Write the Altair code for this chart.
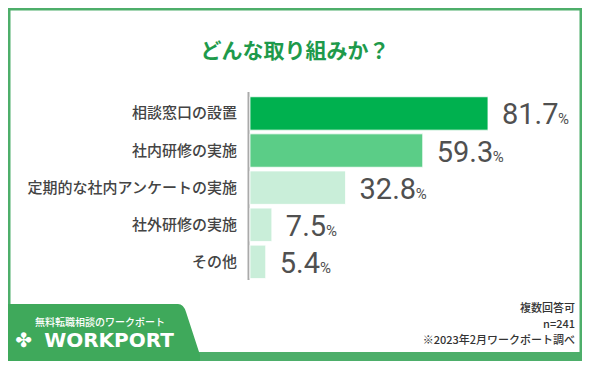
import altair as alt
import pandas as pd

# ---- data ----
categories = ["相談窓口の設置", "社内研修の実施", "定期的な社内アンケートの実施", "社外研修の実施", "その他"]
values = [81.7, 59.3, 32.8, 7.5, 5.4]
title_text = "どんな取り組みか？"
footer_lines = ["複数回答可", "n=241", "※2023年2月ワークポート調べ"]
brand_tagline = "無料転職相談のワークポート"
brand_name = "WORKPORT"

# ---- styles ----
bar_colors = ["#00B14F", "#5BCD87", "#C9EED9", "#C9EED9", "#C9EED9"]
frame_green = "#4DAE6A"
tab_green = "#3FA95B"
title_green = "#1E9A4B"
num_gray = "#505050"

W, H = 574, 353
NUM_FS = 29
PX_PER_UNIT = (533.3 - 242) / 100

df = pd.DataFrame({"cat": categories, "value": values})
one = pd.DataFrame({"k": [0]})

xs = alt.Scale(domain=[0, 100], range=[242, 533.3])
ys = alt.Scale(domain=categories, range=[86.9, 272.4], paddingInner=0.1, paddingOuter=0.05)
Y = alt.Y("cat:N", scale=ys, axis=None, sort=categories)

base = alt.Chart(df)

bars = base.mark_bar(stroke="white", strokeWidth=0.8).encode(
    x=alt.X("value:Q", scale=xs, axis=None),
    y=Y,
    color=alt.Color("cat:N", scale=alt.Scale(domain=categories, range=bar_colors), legend=None),
)

axis_rule = alt.Chart(one).mark_rule(color="#AAAAAA", strokeWidth=2).encode(
    x=alt.value(240.5), y=alt.value(84), y2=alt.value(272)
)

num_text = base.mark_text(
    align="left", baseline="alphabetic", dx=14, dy=11,
    fontSize=NUM_FS, font="Roboto", color=num_gray,
).encode(
    x=alt.X("value:Q", scale=xs, axis=None),
    y=Y,
    text=alt.Text("value:Q", format=".1f"),
)

pct_text = base.transform_calculate(
    label="format(datum.value, '.1f')"
).transform_calculate(
    px=f"datum.value + (14 + {NUM_FS}*((length(datum.label)-1)*0.55+0.25) + 1)/{PX_PER_UNIT}"
).mark_text(
    align="left", baseline="alphabetic", dy=11,
    fontSize=15, font="Roboto", color=num_gray,
).encode(
    x=alt.X("px:Q", scale=xs, axis=None),
    y=Y,
    text=alt.value("%"),
)

cat_text = base.mark_text(
    align="right", baseline="middle", fontSize=15,
    font="Noto Sans CJK JP", fontWeight=500, color="#444444",
).encode(x=alt.value(229), y=Y, text="cat:N")

title = alt.Chart(one).mark_text(
    align="center", baseline="middle", fontSize=21, fontWeight="bold",
    font="Noto Sans CJK JP", color=title_green,
).encode(x=alt.value(287), y=alt.value(44), text=alt.value(title_text))

# frame
def rect(x, x2, y, y2, color):
    return alt.Chart(one).mark_rect(color=color).encode(
        x=alt.value(x), x2=alt.value(x2), y=alt.value(y), y2=alt.value(y2)
    )

frame = [
    rect(0, 2.5, 0, H, frame_green),
    rect(0, W, 0, 2.5, frame_green),
    rect(W - 2.5, W, 0, H, frame_green),
    rect(0, W, 344, H, frame_green),
]

tab_path = "M -1.02 -0.34 L 0.70 -0.34 Q 0.755 -0.34 0.78 -0.26 L 0.92 0.17 L 0.92 0.24 L -1.02 0.24 Z"
tab = alt.Chart(one).mark_point(
    shape=tab_path, filled=True, size=40000, color=tab_green, opacity=1, strokeWidth=0
).encode(x=alt.value(100), y=alt.value(330))

tagline = alt.Chart(one).mark_text(
    align="center", baseline="middle", fontSize=10, fontWeight=500,
    font="Noto Sans CJK JP", color="white",
).encode(x=alt.value(92), y=alt.value(315), text=alt.value(brand_tagline))

logo = alt.Chart(one).mark_text(
    align="center", baseline="middle", fontSize=20, fontWeight="bold",
    font="DejaVu Sans", color="white",
).encode(x=alt.value(101), y=alt.value(333), text=alt.value(brand_name))

clover = alt.Chart(one).mark_text(
    align="center", baseline="middle", fontSize=20,
    font="DejaVu Sans", color="white",
).encode(x=alt.value(15.5), y=alt.value(333), text=alt.value("✤"))

footer = alt.Chart(one).mark_text(
    align="right", baseline="top", fontSize=11, lineHeight=16, fontWeight=500,
    font="Noto Sans CJK JP", color="#333333",
).encode(x=alt.value(567), y=alt.value(295), text=alt.value(footer_lines))

chart = alt.layer(
    *frame, tab, axis_rule, bars, num_text, pct_text, cat_text, title,
    tagline, logo, clover, footer,
).properties(
    width=W, height=H, padding=0, background="white",
    autosize=alt.AutoSizeParams(type="none"),
).configure_view(stroke=None)

chart.save("out.html", embed_options={"renderer": "svg", "actions": False})
